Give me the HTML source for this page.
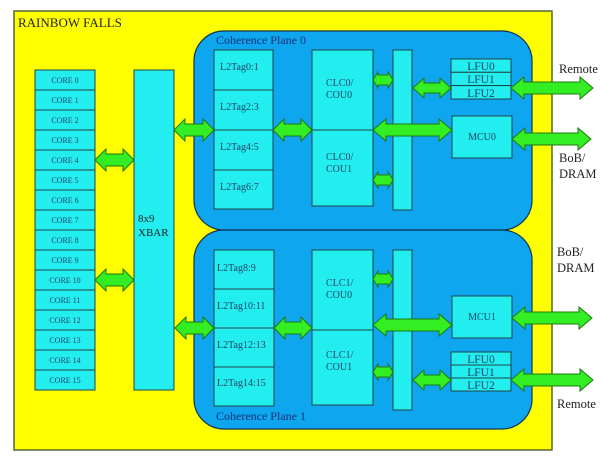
<!DOCTYPE html>
<html><head><style>
html,body{margin:0;padding:0;background:#fff;}
svg{display:block;}
text{font-family:"Liberation Serif",serif;}
</style></head><body>
<svg width="605" height="458" viewBox="0 0 605 458" xmlns="http://www.w3.org/2000/svg">
<defs>
<g id="dummy"></g>
</defs>
<rect x="14" y="11" width="538" height="439" fill="#ffff00" stroke="#556633" stroke-width="1.5"/>
<text x="18" y="27" font-size="13" fill="#222">RAINBOW FALLS</text>

<!-- planes -->
<rect x="194" y="31" width="338" height="199" rx="30" fill="#0ea6ee" stroke="#113355" stroke-width="1.2"/>
<rect x="194" y="230" width="338" height="199" rx="30" fill="#0ea6ee" stroke="#113355" stroke-width="1.2"/>
<text x="216" y="44" font-size="12" fill="#113377">Coherence Plane 0</text>
<text x="216" y="420" font-size="12" fill="#113377">Coherence Plane 1</text>

<!-- cores -->
<g fill="#22eef0" stroke="#224444" stroke-width="1">
<rect x="35" y="70" width="60" height="20"/><rect x="35" y="90" width="60" height="20"/>
<rect x="35" y="110" width="60" height="20"/><rect x="35" y="130" width="60" height="20"/>
<rect x="35" y="150" width="60" height="20"/><rect x="35" y="170" width="60" height="20"/>
<rect x="35" y="190" width="60" height="20"/><rect x="35" y="210" width="60" height="20"/>
<rect x="35" y="230" width="60" height="20"/><rect x="35" y="250" width="60" height="20"/>
<rect x="35" y="270" width="60" height="20"/><rect x="35" y="290" width="60" height="20"/>
<rect x="35" y="310" width="60" height="20"/><rect x="35" y="330" width="60" height="20"/>
<rect x="35" y="350" width="60" height="20"/><rect x="35" y="370" width="60" height="20"/>
<rect x="134" y="70" width="40" height="320"/>
<rect x="214" y="50" width="59" height="40"/><rect x="214" y="90" width="59" height="40"/>
<rect x="214" y="130" width="59" height="40"/><rect x="214" y="170" width="59" height="39"/>
<rect x="214" y="250" width="60" height="39"/><rect x="214" y="289" width="60" height="39"/>
<rect x="214" y="328" width="60" height="39"/><rect x="214" y="367" width="60" height="39"/>
<rect x="312" y="50" width="61" height="80"/><rect x="312" y="130" width="61" height="76"/>
<rect x="312" y="250" width="61" height="80"/><rect x="312" y="330" width="61" height="75"/>
<rect x="393" y="50" width="19" height="160"/>
<rect x="393" y="250" width="19" height="160"/>
<rect x="451" y="59" width="60" height="13.3"/><rect x="451" y="72.3" width="60" height="13.3"/><rect x="451" y="85.6" width="60" height="13.4"/>
<rect x="452" y="116" width="60" height="42"/>
<rect x="452" y="296" width="60" height="42"/>
<rect x="451" y="352" width="60" height="13"/><rect x="451" y="365" width="60" height="13"/><rect x="451" y="378" width="60" height="13"/>
</g>

<g font-size="8" fill="#224466" text-anchor="middle">
<text x="65" y="83">CORE 0</text><text x="65" y="103">CORE 1</text><text x="65" y="123">CORE 2</text><text x="65" y="143">CORE 3</text>
<text x="65" y="163">CORE 4</text><text x="65" y="183">CORE 5</text><text x="65" y="203">CORE 6</text><text x="65" y="223">CORE 7</text>
<text x="65" y="243">CORE 8</text><text x="65" y="263">CORE 9</text><text x="65" y="283">CORE 10</text><text x="65" y="303">CORE 11</text>
<text x="65" y="323">CORE 12</text><text x="65" y="343">CORE 13</text><text x="65" y="363">CORE 14</text><text x="65" y="383">CORE 15</text>
</g>
<g font-size="11" fill="#222">
<text x="138" y="222">8x9</text><text x="138" y="236">XBAR</text>
</g>
<g font-size="10" fill="#224466">
<text x="220" y="70">L2Tag0:1</text><text x="220" y="110">L2Tag2:3</text><text x="220" y="150">L2Tag4:5</text><text x="220" y="190">L2Tag6:7</text>
<text x="217" y="271">L2Tag8:9</text><text x="217" y="309">L2Tag10:11</text><text x="217" y="348">L2Tag12:13</text><text x="217" y="386">L2Tag14:15</text>
<text x="326" y="86">CLC0/</text><text x="326" y="98">COU0</text>
<text x="326" y="160">CLC0/</text><text x="326" y="172">COU1</text>
<text x="326" y="286">CLC1/</text><text x="326" y="298">COU0</text>
<text x="326" y="358">CLC1/</text><text x="326" y="370">COU1</text>
<text x="482" y="140" text-anchor="middle">MCU0</text>
<text x="482" y="320" text-anchor="middle">MCU1</text>
</g>
<g font-size="11.5" fill="#224466" text-anchor="middle">
<text x="481" y="70">LFU0</text><text x="481" y="83">LFU1</text><text x="481" y="97">LFU2</text>
<text x="481" y="363">LFU0</text><text x="481" y="376">LFU1</text><text x="481" y="389">LFU2</text>
</g>
<g font-size="12.5" fill="#222">
<text x="559" y="73">Remote</text>
<text x="559" y="162">BoB/</text><text x="559" y="178">DRAM</text>
<text x="557" y="256">BoB/</text><text x="557" y="272">DRAM</text>
<text x="557" y="408">Remote</text>
</g>

<!-- arrows -->
<g fill="#33ee22" stroke="#227711" stroke-width="1">
<!-- big: shaft half 6, head half 11, head len 11 -->
<polygon points="95,160 106,149 106,154 123,154 123,149 134,160 123,171 123,166 106,166 106,171"/>
<polygon points="95,280 106,269 106,274 123,274 123,269 134,280 123,291 123,286 106,286 106,291"/>
<polygon points="174,130 185,119 185,124 203,124 203,119 214,130 203,141 203,136 185,136 185,141"/>
<polygon points="273,130 284,119 284,124 301,124 301,119 312,130 301,141 301,136 284,136 284,141"/>
<polygon points="373,130 386,119 386,124 439,124 439,119 452,130 439,141 439,136 386,136 386,141"/>
<polygon points="413,88 424,78 424,83 440,83 440,78 451,88 440,98 440,93 424,93 424,98"/>
<polygon points="511,88 524,77 524,82 580,82 580,77 593,88 580,99 580,94 524,94 524,99"/>
<polygon points="512,139 525,128 525,133 578,133 578,128 591,139 578,150 578,145 525,145 525,150"/>
<polygon points="175,328 186,317 186,322 203,322 203,317 214,328 203,339 203,334 186,334 186,339"/>
<polygon points="274,328 285,317 285,322 301,322 301,317 312,328 301,339 301,334 285,334 285,339"/>
<polygon points="373,325 386,314 386,319 439,319 439,314 452,325 439,336 439,331 386,331 386,336"/>
<polygon points="413,380 424,370 424,375 440,375 440,370 451,380 440,390 440,385 424,385 424,390"/>
<polygon points="512,318 525,307 525,312 579,312 579,307 592,318 579,329 579,324 525,324 525,329"/>
<polygon points="511,380 524,369 524,374 580,374 580,369 593,380 580,391 580,386 524,386 524,391"/>
<!-- small -->
<polygon points="373,80 378,72 378,75 388,75 388,72 393,80 388,88 388,85 378,85 378,88"/>
<polygon points="373,180 378,172 378,175 388,175 388,172 393,180 388,188 388,185 378,185 378,188"/>
<polygon points="373,279 378,271 378,274 388,274 388,271 393,279 388,287 388,284 378,284 378,287"/>
<polygon points="373,372 378,364 378,367 388,367 388,364 393,372 388,380 388,377 378,377 378,380"/>
</g>
</svg>
</body></html>
